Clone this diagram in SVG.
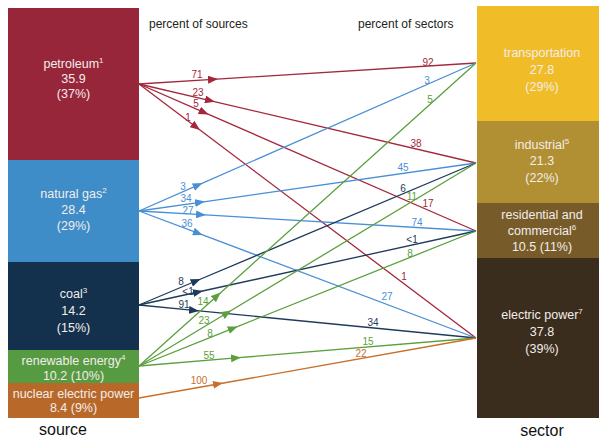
<svg xmlns="http://www.w3.org/2000/svg" width="599" height="440" viewBox="0 0 599 440">
<style>
.nt{font-family:"Liberation Sans",Arial,sans-serif;font-size:12.5px;fill:#f3ecea;text-anchor:middle}
.sup{font-size:8px}
.hd{font-family:"Liberation Sans",Arial,sans-serif;font-size:12px;fill:#222;}
.ax{font-family:"Liberation Sans",Arial,sans-serif;font-size:16px;fill:#111;text-anchor:middle}
.lb{font-family:"Liberation Sans",Arial,sans-serif;font-size:10px;text-anchor:middle}
.ln{fill:none;stroke-width:1.3}
.r{stroke:#a3283c}.b{stroke:#4a8fd6}.n{stroke:#1f3a5a}.g{stroke:#5ba03d}.o{stroke:#c76f2b}
.tr{fill:#a3283c}.tb{fill:#4a8fd6}.tn{fill:#1f3a5a}.tg{fill:#5ba03d}.to{fill:#c76f2b}
</style>
<defs>
<marker id="ar" viewBox="0 0 10 8" refX="5" refY="4" markerWidth="10" markerHeight="8" markerUnits="userSpaceOnUse" orient="auto"><path d="M0,0 L10,4 L0,8 z" fill="#a3283c"/></marker>
<marker id="ab" viewBox="0 0 10 8" refX="5" refY="4" markerWidth="10" markerHeight="8" markerUnits="userSpaceOnUse" orient="auto"><path d="M0,0 L10,4 L0,8 z" fill="#4a8fd6"/></marker>
<marker id="an" viewBox="0 0 10 8" refX="5" refY="4" markerWidth="10" markerHeight="8" markerUnits="userSpaceOnUse" orient="auto"><path d="M0,0 L10,4 L0,8 z" fill="#1f3a5a"/></marker>
<marker id="ag" viewBox="0 0 10 8" refX="5" refY="4" markerWidth="10" markerHeight="8" markerUnits="userSpaceOnUse" orient="auto"><path d="M0,0 L10,4 L0,8 z" fill="#5ba03d"/></marker>
<marker id="ao" viewBox="0 0 10 8" refX="5" refY="4" markerWidth="10" markerHeight="8" markerUnits="userSpaceOnUse" orient="auto"><path d="M0,0 L10,4 L0,8 z" fill="#c76f2b"/></marker>
</defs>
<rect width="599" height="440" fill="#fff"/>

<g id="petroleum"><rect x="8" y="8" width="131" height="152" fill="#97263b"/>
<text class="nt" x="73.5" y="68">petroleum<tspan class="sup" dy="-5">1</tspan></text>
<text class="nt" x="73.5" y="83">35.9</text><text class="nt" x="73.5" y="98">(37%)</text></g>
<g id="natural-gas"><rect x="8" y="160" width="131" height="102" fill="#3e8dc9"/>
<text class="nt" x="73.5" y="198">natural gas<tspan class="sup" dy="-5">2</tspan></text>
<text class="nt" x="73.5" y="214">28.4</text><text class="nt" x="73.5" y="230">(29%)</text></g>
<g id="coal"><rect x="8" y="262" width="131" height="88" fill="#13314c"/>
<text class="nt" x="73.5" y="298">coal<tspan class="sup" dy="-5">3</tspan></text>
<text class="nt" x="73.5" y="315">14.2</text><text class="nt" x="73.5" y="332">(15%)</text></g>
<g id="renewable"><rect x="8" y="350" width="131" height="33" fill="#569b41"/>
<text class="nt" x="73.5" y="365">renewable energy<tspan class="sup" dy="-5">4</tspan></text>
<text class="nt" x="73.5" y="380">10.2 (10%)</text></g>
<g id="nuclear"><rect x="8" y="383" width="131" height="35" fill="#b8692a"/>
<text class="nt" x="73.5" y="398">nuclear electric power</text>
<text class="nt" x="73.5" y="412">8.4 (9%)</text></g>

<g id="transportation"><rect x="477" y="6" width="131" height="115" fill="#f0bd28"/>
<text class="nt" x="542" y="57">transportation</text>
<text class="nt" x="542" y="74">27.8</text><text class="nt" x="542" y="91">(29%)</text></g>
<g id="industrial"><rect x="477" y="121" width="131" height="82" fill="#b09033"/>
<text class="nt" x="542" y="149">industrial<tspan class="sup" dy="-5">5</tspan></text>
<text class="nt" x="542" y="165">21.3</text><text class="nt" x="542" y="182">(22%)</text></g>
<g id="residential"><rect x="477" y="203" width="131" height="55" fill="#775c2a"/>
<text class="nt" x="542" y="219">residential and</text>
<text class="nt" x="542" y="235">commercial<tspan class="sup" dy="-5">6</tspan></text>
<text class="nt" x="542" y="251">10.5 (11%)</text></g>
<g id="electric"><rect x="477" y="258" width="131" height="160" fill="#3a2d1d"/>
<text class="nt" x="542" y="319">electric power<tspan class="sup" dy="-5">7</tspan></text>
<text class="nt" x="542" y="336">37.8</text><text class="nt" x="542" y="353">(39%)</text></g>

<g id="headers">
<text class="hd" x="149" y="28">percent of sources</text>
<text class="hd" x="358" y="28">percent of sectors</text>
<text class="ax" x="63" y="435">source</text>
<text class="ax" x="542" y="436">sector</text>
</g>

<g id="connectors">
<path class="ln r" marker-mid="url(#ar)" d="M139,84 L213,79.4 L476,63"/>
<path class="ln r" marker-mid="url(#ar)" d="M139,84 L210,100.6 L476,163"/>
<path class="ln r" marker-mid="url(#ar)" d="M139,84 L204,112.4 L476,231"/>
<path class="ln r" marker-mid="url(#ar)" d="M139,84 L196,127 L476,338"/>
<path class="ln b" marker-mid="url(#ab)" d="M139,211 L198,185.1 L476,63"/>
<path class="ln b" marker-mid="url(#ab)" d="M139,211 L200,202.3 L476,163"/>
<path class="ln b" marker-mid="url(#ab)" d="M139,211 L201,214.7 L476,231"/>
<path class="ln b" marker-mid="url(#ab)" d="M139,211 L198,233.2 L476,338"/>
<path class="ln n" marker-mid="url(#an)" d="M139,305 L196,281 L476,163"/>
<path class="ln n" marker-mid="url(#an)" d="M139,305 L198,292 L476,231"/>
<path class="ln n" marker-mid="url(#an)" d="M139,305 L194,310.4 L476,338"/>
<path class="ln g" marker-mid="url(#ag)" d="M139,366 L217,295.9 L476,63"/>
<path class="ln g" marker-mid="url(#ag)" d="M139,366 L227,313 L476,163"/>
<path class="ln g" marker-mid="url(#ag)" d="M139,366 L233,328.3 L476,231"/>
<path class="ln g" marker-mid="url(#ag)" d="M139,366 L236,357.9 L476,338"/>
<path class="ln o" marker-mid="url(#ao)" d="M139,398 L218,384 L476,338"/>
</g>

<g id="labels">
<text class="lb tr" x="197" y="77.5">71</text>
<text class="lb tr" x="198" y="95.5">23</text>
<text class="lb tr" x="196" y="106.5">5</text>
<text class="lb tr" x="188" y="120.5">1</text>
<text class="lb tb" x="183" y="189.5">3</text>
<text class="lb tb" x="186" y="201.5">34</text>
<text class="lb tb" x="188" y="213.5">27</text>
<text class="lb tb" x="187" y="226.5">36</text>
<text class="lb tn" x="181" y="284.5">8</text>
<text class="lb tn" x="188" y="294.5">&lt;1</text>
<text class="lb tn" x="184" y="307.5">91</text>
<text class="lb tg" x="203" y="304.5">14</text>
<text class="lb tg" x="204" y="323.5">23</text>
<text class="lb tg" x="210" y="336.5">8</text>
<text class="lb tg" x="209" y="358.5">55</text>
<text class="lb to" x="199" y="383.5">100</text>

<text class="lb tr" x="428" y="65.5">92</text>
<text class="lb tb" x="427" y="83.5">3</text>
<text class="lb tg" x="430" y="102.5">5</text>
<text class="lb tr" x="416" y="146.5">38</text>
<text class="lb tb" x="403" y="170.5">45</text>
<text class="lb tn" x="403" y="191.5">6</text>
<text class="lb tg" x="412" y="199.5">11</text>
<text class="lb tr" x="428" y="206.5">17</text>
<text class="lb tb" x="417" y="225.5">74</text>
<text class="lb tn" x="412" y="242.5">&lt;1</text>
<text class="lb tg" x="410" y="256.5">8</text>
<text class="lb tr" x="404" y="279.5">1</text>
<text class="lb tb" x="387" y="299.5">27</text>
<text class="lb tn" x="373" y="325.5">34</text>
<text class="lb tg" x="368" y="344.5">15</text>
<text class="lb to" x="361" y="356.5">22</text>
</g>
</svg>
